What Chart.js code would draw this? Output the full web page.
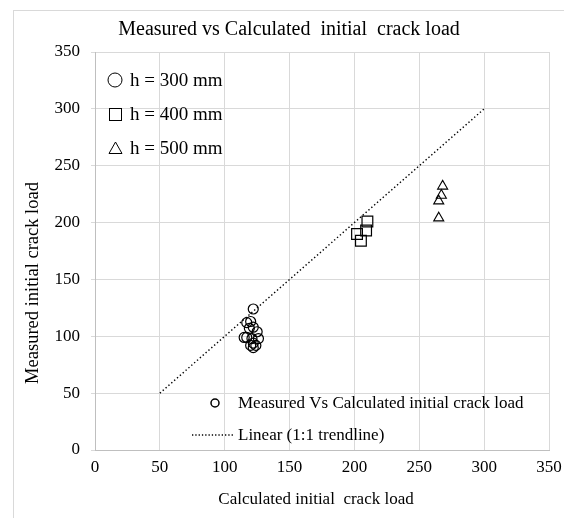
<!DOCTYPE html>
<html>
<head>
<meta charset="utf-8">
<script src="https://cdn.jsdelivr.net/npm/chart.js@4.4.0/dist/chart.umd.min.js"></script>
<style>
  html, body { margin: 0; padding: 0; background: #fff; }
  #wrap { width: 564px; height: 518px; position: relative; }
</style>
</head>
<body>
<div id="wrap"><canvas id="mainChart" width="564" height="518"></canvas></div>
<script>
    // calculated (x) vs measured (y) initial crack load
    const calc300 = [122, 117, 120, 122, 119, 125, 117, 121, 126, 122, 124, 120, 122, 115];
    const meas300 = [124, 112, 113, 108, 107, 104, 99, 98, 98, 94, 92, 92, 90, 99];
    const calc400 = [210, 209, 202, 205];
    const meas400 = [201, 193, 190, 184];
    const calc500 = [268, 267, 265, 265];
    const meas500 = [232, 224, 219, 204];
    const trendX = [50, 300];
    const trendY = [50, 300];
    const ticks = [0, 50, 100, 150, 200, 250, 300, 350];

    const FONT = "'Liberation Serif', 'Times New Roman', serif";
    const toPts = (xs, ys) => xs.map((x, i) => ({ x: x, y: ys[i] }));

    // titles and the two text-box legends are drawn by hand
    const decor = {
        id: 'decor',
        beforeDraw(chart) {
            const c = chart.ctx;
            c.save();
            c.fillStyle = '#fff';
            c.fillRect(0, 0, chart.width, chart.height);
            c.strokeStyle = '#d9d9d9';
            c.lineWidth = 1;
            c.strokeRect(13.5, 10.5, 700, 700);
            c.restore();
        },
        afterDraw(chart) {
            const c = chart.ctx;
            c.save();
            c.fillStyle = '#000';
            c.textBaseline = 'middle';

            c.textAlign = 'center';
            c.font = '20px ' + FONT;
            c.fillText('Measured vs Calculated  initial  crack load', 289, 30);

            c.font = '17px ' + FONT;
            c.fillText('Calculated initial  crack load', 316, 500);

            c.save();
            c.translate(33, 283);
            c.rotate(-Math.PI / 2);
            c.font = '18.5px ' + FONT;
            c.fillText('Measured initial crack load', 0, 0);
            c.restore();

            // top-left legend
            c.textAlign = 'left';
            c.font = '19px ' + FONT;
            c.strokeStyle = '#000';
            c.lineWidth = 1;
            c.beginPath();
            c.arc(115, 80, 7, 0, Math.PI * 2);
            c.stroke();
            c.fillText('h = 300 mm', 130, 81);
            c.strokeRect(109.5, 108.5, 12, 12);
            c.fillText('h = 400 mm', 130, 115);
            c.beginPath();
            c.moveTo(115.5, 142);
            c.lineTo(122, 153.5);
            c.lineTo(109, 153.5);
            c.closePath();
            c.stroke();
            c.fillText('h = 500 mm', 130, 149);

            // bottom legend
            c.font = '17px ' + FONT;
            c.lineWidth = 1.5;
            c.beginPath();
            c.arc(215, 403, 4, 0, Math.PI * 2);
            c.stroke();
            c.fillText('Measured Vs Calculated initial crack load', 238, 404);
            c.lineWidth = 1.3;
            c.setLineDash([1.3, 2]);
            c.beginPath();
            c.moveTo(192, 435);
            c.lineTo(233, 435);
            c.stroke();
            c.setLineDash([]);
            c.fillText('Linear (1:1 trendline)', 238, 436);
            c.restore();
        }
    };

    const ctx = document.getElementById('mainChart').getContext('2d');
    const myChart = new Chart(ctx, {
        type: 'scatter',
        data: {
            datasets: [
                { label: 'trend', data: toPts(trendX, trendY), type: 'line', showLine: true, borderColor: '#000', borderWidth: 1.4, borderDash: [1.4, 2.4], pointRadius: 0, fill: false },
                { label: 'h300', data: toPts(calc300, meas300), pointStyle: 'circle', pointRadius: 5, borderColor: '#000', backgroundColor: 'rgba(0,0,0,0)', borderWidth: 1.2 },
                { label: 'h400', data: toPts(calc400, meas400), pointStyle: 'rect', pointRadius: 7.6, borderColor: '#000', backgroundColor: 'rgba(0,0,0,0)', borderWidth: 1.2 },
                { label: 'h500', data: toPts(calc500, meas500), pointStyle: 'triangle', pointRadius: 5.8, borderColor: '#000', backgroundColor: 'rgba(0,0,0,0)', borderWidth: 1.1 }
            ]
        },
        options: {
            responsive: false,
            animation: false,
            layout: { padding: { left: 0, right: 15, top: 52, bottom: 0 } },
            plugins: { legend: { display: false }, tooltip: { enabled: false }, title: { display: false } },
            scales: {
                x: {
                    type: 'linear', min: 0, max: 350,
                    afterBuildTicks: s => { s.ticks = ticks.map(v => ({ value: v })); },
                    afterFit: s => { s.height = 68; s.paddingLeft = 0; s.paddingRight = 0; },
                    grid: { color: '#d9d9d9', drawTicks: false },
                    border: { color: '#bfbfbf' },
                    ticks: { color: '#000', font: { family: FONT, size: 17 }, padding: 7, maxRotation: 0 }
                },
                y: {
                    type: 'linear', min: 0, max: 350,
                    afterBuildTicks: s => { s.ticks = ticks.map(v => ({ value: v })); },
                    afterFit: s => { s.width = 95; s.paddingTop = 0; s.paddingBottom = 0; },
                    grid: { color: '#d9d9d9', tickLength: 4 },
                    border: { color: '#bfbfbf' },
                    ticks: { color: '#000', font: { family: FONT, size: 17 }, padding: 11 }
                }
            }
        },
        plugins: [decor]
    });
</script>
</body>
</html>
